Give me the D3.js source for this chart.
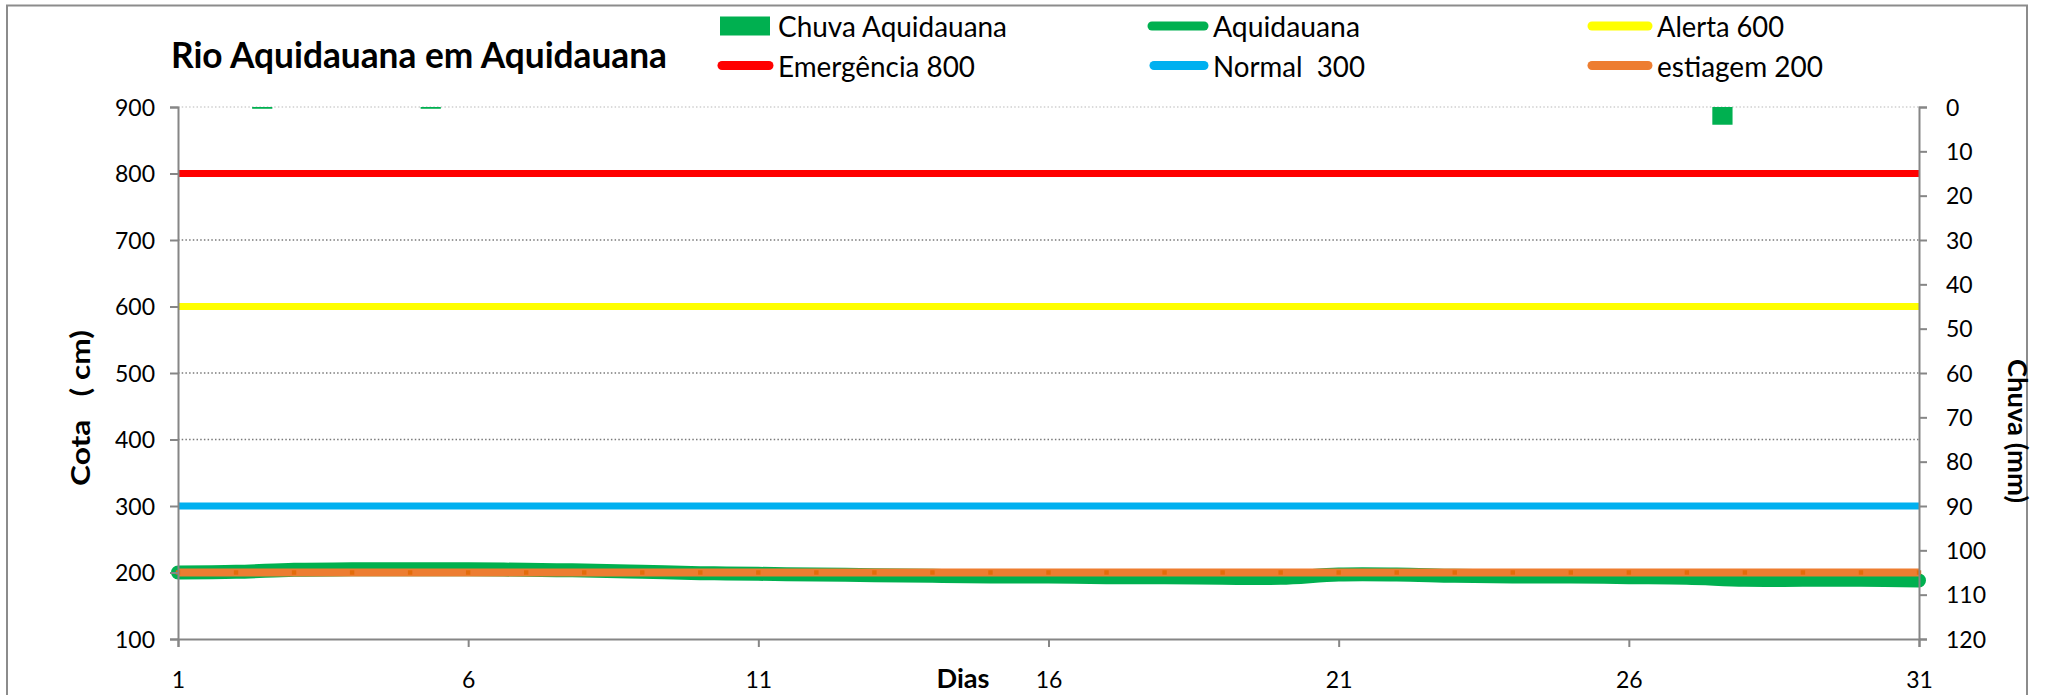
<!DOCTYPE html>
<html>
<head>
<meta charset="utf-8">
<script src="https://cdn.jsdelivr.net/npm/d3@7"></script>
<style>
  html, body { margin: 0; padding: 0; background: #ffffff; }
  svg { display: block; font-family: Lato, "Open Sans", sans-serif; }
  text { white-space: pre; }
</style>
</head>
<body>
<svg id="chart" width="2048" height="695"></svg>
<script>
// ---------- DATA ----------
const days = [1,2,3,4,5,6,7,8,9,10,11,12,13,14,15,16,17,18,19,20,21,22,23,24,25,26,27,28,29,30,31];
const cotaAquidauana = [200,201,204,205,205,205,204,203,201,199,198,197,196,195,194,194,193,193,192,192,197,197,195,194,194,193,192,189,189,189,188];
const chuvaAquidauana = [0,0.4,0,0,0.4,0,0,0,0,0,0,0,0,0,0,0,0,0,0,0,0,0,0,0,0,0,0,4,0,0,0];
const emergencia800 = [800,800,800,800,800,800,800,800,800,800,800,800,800,800,800,800,800,800,800,800,800,800,800,800,800,800,800,800,800,800,800];
const alerta600 = [600,600,600,600,600,600,600,600,600,600,600,600,600,600,600,600,600,600,600,600,600,600,600,600,600,600,600,600,600,600,600];
const normal300 = [300,300,300,300,300,300,300,300,300,300,300,300,300,300,300,300,300,300,300,300,300,300,300,300,300,300,300,300,300,300,300];
const estiagem200 = [200,200,200,200,200,200,200,200,200,200,200,200,200,200,200,200,200,200,200,200,200,200,200,200,200,200,200,200,200,200,200];
const leftTicks = [100,200,300,400,500,600,700,800,900];
const rightTicks = [0,10,20,30,40,50,60,70,80,90,100,110,120];
const xTicks = [1,6,11,16,21,26,31];
const title = "Rio Aquidauana em Aquidauana";
const yTitle = "Cota   ( cm)";
const y2Title = "Chuva (mm)";
const xTitle = "Dias";
const legendItems = [
  {name: "Chuva Aquidauana", kind: "rect", color: "#00B050"},
  {name: "Aquidauana", kind: "line", color: "#00B050"},
  {name: "Alerta 600", kind: "line", color: "#FFFF00"},
  {name: "Emergência 800", kind: "line", color: "#FF0000"},
  {name: "Normal  300", kind: "line", color: "#00B0F0"},
  {name: "estiagem 200", kind: "line", color: "#ED7D31"}
];

// ---------- LAYOUT ----------
const L = 178, R = 1919, T = 107, B = 639;
const svg = d3.select("#chart");
svg.append("rect").attr("width", 2048).attr("height", 695).attr("fill", "#fff");
svg.append("rect").attr("x", 7).attr("y", 5.5).attr("width", 2020).attr("height", 760)
  .attr("fill", "none").attr("stroke", "#8c8c8c").attr("stroke-width", 2);

const x = d3.scaleLinear().domain([1, 31]).range([L, R]);
const xb = d3.scaleBand().domain(days).range([L, R]).paddingInner(0.64).paddingOuter(0.32);
const y = d3.scaleLinear().domain([100, 900]).range([B, T]);
const y2 = d3.scaleLinear().domain([0, 120]).range([T, B]);

// gridlines
svg.append("g").selectAll("line").data(leftTicks.filter(d => d > 100)).join("line")
  .attr("x1", L).attr("x2", R).attr("y1", d => y(d)).attr("y2", d => y(d))
  .attr("stroke", d => d === 900 ? "#d0d0d0" : "#7a7a7a")
  .attr("stroke-width", 1.3).attr("stroke-dasharray", "1.5,2.2");

// rain bars
svg.append("g").selectAll("rect").data(days.map((d, i) => ({d, v: chuvaAquidauana[i]})).filter(o => o.v > 0)).join("rect")
  .attr("x", o => xb(o.d)).attr("width", xb.bandwidth())
  .attr("y", y2(0)).attr("height", o => y2(o.v) - y2(0))
  .attr("fill", "#00B050");

// threshold lines
const lineGen = d3.line().x((v, i) => x(days[i])).y(v => y(v));
[[emergencia800, "#FF0000", 7], [alerta600, "#FFFF00", 7], [normal300, "#00B0F0", 7]].forEach(([arr, c, w]) => {
  svg.append("path").attr("d", lineGen(arr)).attr("fill", "none").attr("stroke", c).attr("stroke-width", w);
});

// Aquidauana (smoothed)
const smooth = d3.line().x((v, i) => x(days[i])).y(v => y(v)).curve(d3.curveCatmullRom.alpha(0.5));
svg.append("path").attr("d", smooth(cotaAquidauana)).attr("fill", "none")
  .attr("stroke", "#00B050").attr("stroke-width", 14).attr("stroke-linecap", "round").attr("stroke-linejoin", "round");

// estiagem 200 with markers
svg.append("path").attr("d", lineGen(estiagem200)).attr("fill", "none")
  .attr("stroke", "#ED7D31").attr("stroke-width", 8);
svg.append("g").selectAll("rect").data(estiagem200).join("rect")
  .attr("x", (v, i) => x(days[i]) - 2.2).attr("y", v => y(v) - 2.2)
  .attr("width", 4.4).attr("height", 4.4).attr("fill", "#E36C0A");

// axes
const axisColor = "#868686";
const gl = svg.append("g").attr("transform", `translate(${L},0)`)
  .call(d3.axisLeft(y).tickValues(leftTicks).tickSize(8).tickFormat(d3.format("d")));
const gr = svg.append("g").attr("transform", `translate(${R},0)`)
  .call(d3.axisRight(y2).tickValues(rightTicks).tickSize(8).tickFormat(d3.format("d")));
const gb = svg.append("g").attr("transform", `translate(0,${B})`)
  .call(d3.axisBottom(x).tickValues(xTicks).tickSize(8).tickFormat(d3.format("d")));
[gl, gr, gb].forEach(g => {
  g.select(".domain").attr("stroke", axisColor).attr("stroke-width", 2);
  g.selectAll(".tick line").attr("stroke", axisColor).attr("stroke-width", 2);
  g.selectAll(".tick text").attr("fill", "#000").attr("font-size", 23).attr("font-family", "Lato");
});
gl.selectAll(".tick text").attr("x", -23).attr("dy", "0.36em");
gr.selectAll(".tick text").attr("x", 27).attr("dy", "0.36em");
gb.selectAll(".tick text").attr("y", 41).attr("dy", "0.36em");

// titles
svg.append("text").attr("x", 171).attr("y", 68).attr("font-size", 36).attr("font-weight", 700)
  .attr("textLength", 496).attr("lengthAdjust", "spacingAndGlyphs").text(title);
svg.append("text").attr("transform", "translate(90,408) rotate(-90)").attr("text-anchor", "middle")
  .attr("font-size", 26).attr("font-weight", 700).attr("textLength", 156).attr("lengthAdjust", "spacingAndGlyphs").text(yTitle);
svg.append("text").attr("transform", "translate(2008,431) rotate(90)").attr("text-anchor", "middle")
  .attr("font-size", 26).attr("font-weight", 700).attr("textLength", 144).attr("lengthAdjust", "spacingAndGlyphs").text(y2Title);
svg.append("text").attr("x", 963).attr("y", 688).attr("text-anchor", "middle")
  .attr("font-size", 26).attr("font-weight", 700).attr("textLength", 53).attr("lengthAdjust", "spacingAndGlyphs").text(xTitle);

// legend
const legPos = [
  {sx: 720, tx: 778, row: 0, w: 229},
  {sx: 1148, tx: 1213, row: 0, w: 147},
  {sx: 1588, tx: 1657, row: 0, w: 127},
  {sx: 718, tx: 778, row: 1, w: 197},
  {sx: 1150, tx: 1213, row: 1, w: 152},
  {sx: 1588, tx: 1657, row: 1, w: 166}
];
const rowMid = [26, 65.5], rowBase = [36.5, 77];
const lg = svg.append("g");
legendItems.forEach((it, i) => {
  const p = legPos[i];
  if (it.kind === "rect") {
    lg.append("rect").attr("x", p.sx).attr("y", rowMid[p.row] - 9.5).attr("width", 50).attr("height", 19).attr("fill", it.color);
  } else {
    lg.append("line").attr("x1", p.sx + 4).attr("x2", p.tx - 9).attr("y1", rowMid[p.row]).attr("y2", rowMid[p.row])
      .attr("stroke", it.color).attr("stroke-width", 9).attr("stroke-linecap", "round");
  }
  lg.append("text").attr("x", p.tx).attr("y", rowBase[p.row]).attr("font-size", 28)
    .attr("textLength", p.w).attr("lengthAdjust", "spacingAndGlyphs").text(it.name);
});
</script>
</body>
</html>
